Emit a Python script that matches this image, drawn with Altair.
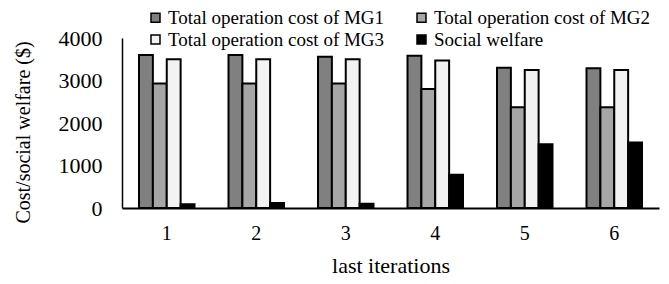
import altair as alt
import pandas as pd

iterations = ["1", "2", "3", "4", "5", "6"]
series = ["Total operation cost of MG1", "Total operation cost of MG2",
          "Total operation cost of MG3", "Social welfare"]
mg1 = [3600, 3600, 3560, 3580, 3300, 3290]
mg2 = [2930, 2930, 2930, 2800, 2370, 2370]
mg3 = [3500, 3500, 3500, 3470, 3250, 3250]
welfare = [90, 120, 100, 780, 1500, 1540]
colors = ["#808080", "#a6a6a6", "#f2f2f2", "#000000"]

rows = []
for vals, s in zip([mg1, mg2, mg3, welfare], series):
    for it, v in zip(iterations, vals):
        rows.append({"iteration": it, "series": s, "value": v})
df = pd.DataFrame(rows)

# legend fills column-wise: order domain so rows read MG1, MG2 / MG3, SW
legend_order = [series[0], series[2], series[1], series[3]]
legend_colors = [colors[0], colors[2], colors[1], colors[3]]

FONT = "Liberation Serif"

chart = alt.Chart(df).mark_bar(stroke="black", strokeWidth=2).encode(
    x=alt.X("iteration:N", sort=iterations,
            scale=alt.Scale(paddingInner=0.38, paddingOuter=0.19),
            axis=alt.Axis(title="last iterations", labelAngle=0, labelFontSize=20,
                          labelFont=FONT, labelColor="black", ticks=False,
                          labelPadding=15, domainColor="black", domainWidth=2,
                          titleFont=FONT, titleFontSize=22, titleFontWeight="normal",
                          titleColor="black", titleY=57, titleBaseline="middle")),
    xOffset=alt.XOffset("series:N", sort=series),
    y=alt.Y("value:Q", scale=alt.Scale(domain=[0, 4000]),
            axis=alt.Axis(title="Cost/social welfare ($)", values=[0, 1000, 2000, 3000, 4000],
                          format="d",
                          grid=False, ticks=False, labelFontSize=22, labelFont=FONT,
                          labelColor="black", labelPadding=20, domainColor="black",
                          domainWidth=1.5, titleFont=FONT, titleFontSize=20,
                          titleFontWeight="normal", titleColor="black",
                          titleX=-99, titleY=94, titleAngle=-90,
                          titleAlign="center", titleBaseline="middle")),
    color=alt.Color("series:N",
                    scale=alt.Scale(domain=legend_order, range=legend_colors),
                    legend=alt.Legend(title=None, orient="none", legendX=24, legendY=-30,
                                      columns=2, columnPadding=27, rowPadding=2,
                                      symbolType="square", symbolSize=81,
                                      symbolStrokeColor="black", symbolStrokeWidth=1.5,
                                      labelFont=FONT, labelFontSize=19, labelColor="black",
                                      labelLimit=400, labelOffset=3, padding=0)),
).properties(
    width=537, height=170,
    autosize=alt.AutoSizeParams(type="none"),
    padding={"left": 114, "top": 30, "right": 2, "bottom": 76},
).configure(font=FONT).configure_view(stroke=None)

chart.save("out.html", embed_options={"renderer": "svg", "actions": False})
